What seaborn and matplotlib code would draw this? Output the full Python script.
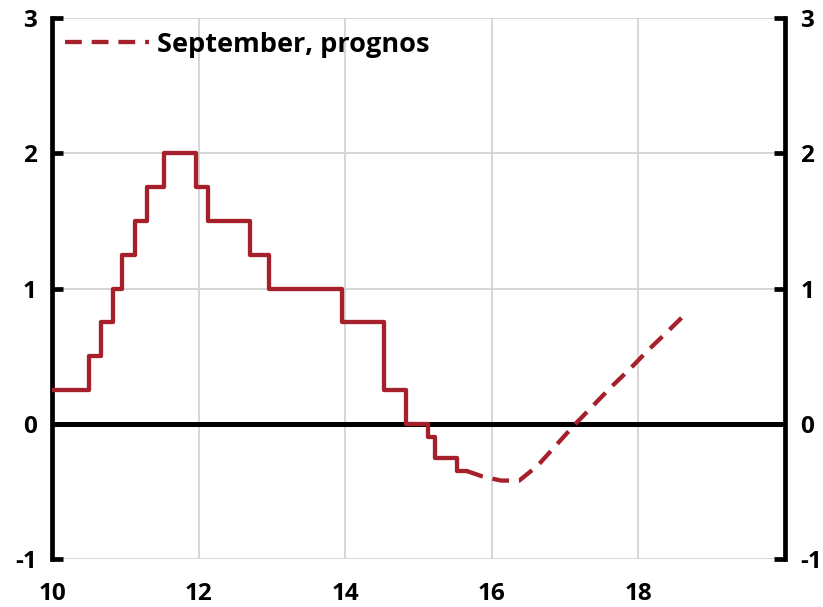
import matplotlib
matplotlib.use("Agg")
import matplotlib.pyplot as plt
import seaborn as sns
import pandas as pd

# Historical policy rate (step series)
hist_x = [10.0, 10.5, 10.67, 10.83, 10.96, 11.13, 11.3, 11.53, 11.96, 12.13,
          12.7, 12.96, 13.96, 14.53, 14.83, 15.13, 15.22, 15.52, 15.66]
hist_y = [0.25, 0.5, 0.75, 1.0, 1.25, 1.5, 1.75, 2.0, 1.75, 1.5,
          1.25, 1.0, 0.75, 0.25, 0.0, -0.1, -0.25, -0.35, -0.35]

# September forecast
fc_x = [15.66, 15.875, 16.125, 16.375, 16.625, 16.875, 17.125, 17.375,
        17.625, 17.875, 18.125, 18.375, 18.64]
fc_y = [-0.35, -0.39, -0.42, -0.42, -0.31, -0.16, -0.01, 0.13,
        0.27, 0.40, 0.54, 0.67, 0.81]
fc_label = "September, prognos"

x_ticks = [10, 12, 14, 16, 18]
y_ticks = [-1, 0, 1, 2, 3]

sns.set_theme(style="white")
plt.rcParams['font.family'] = ['Open Sans', 'DejaVu Sans']
plt.rcParams['font.weight'] = 'bold'
plt.rcParams['axes.unicode_minus'] = False

red = "#A6202B"
fig = plt.figure(figsize=(8.23, 6.07), dpi=100)
ax = fig.add_axes([52/823, 1-559/607, (785-52)/823, (559-18)/607])

hist_df = pd.DataFrame({"x": hist_x, "y": hist_y})
fc_df = pd.DataFrame({"x": fc_x, "y": fc_y})

sns.lineplot(data=hist_df, x="x", y="y", ax=ax, color=red, lw=3.1,
             drawstyle="steps-post", estimator=None, zorder=4)
sns.lineplot(data=fc_df, x="x", y="y", ax=ax, color=red, lw=3.1,
             estimator=None, label=fc_label, zorder=4)
ax.lines[-1].set_dashes([3.9, 2.3])

ax.axhline(0, color="black", lw=3.6, zorder=3)

ax.set_xlim(10, 20)
ax.set_ylim(-1, 3)
ax.set_xticks(x_ticks)
ax.set_yticks(y_ticks)
ax.set_xlabel("")
ax.set_ylabel("")

ax.grid(True, color="#D0D0D0", lw=1.2)
ax.set_axisbelow(True)

for s in ["top", "bottom"]:
    ax.spines[s].set_visible(False)
for s in ["left", "right"]:
    ax.spines[s].set_visible(True)
    ax.spines[s].set_color("black")
    ax.spines[s].set_linewidth(3.4)

ax.tick_params(axis="y", which="both", left=True, right=True,
               labelleft=True, labelright=True, direction="in",
               length=8, width=3.4, color="black", pad=11,
               labelsize=17.5, labelcolor="black")
ax.tick_params(axis="x", bottom=False, top=False, pad=10.5,
               labelsize=17.5, labelcolor="black")
for lab in ax.get_xticklabels() + ax.get_yticklabels():
    lab.set_fontweight("bold")

leg = ax.legend(loc="upper left", frameon=False, handlelength=3.1,
                handletextpad=0.3,
                bbox_to_anchor=(-0.008, 1.01), borderaxespad=0.3,
                prop={"weight": "bold", "size": 19.5})
for t in leg.get_texts():
    t.set_color("black")

fig.savefig("out.png", dpi=100)
